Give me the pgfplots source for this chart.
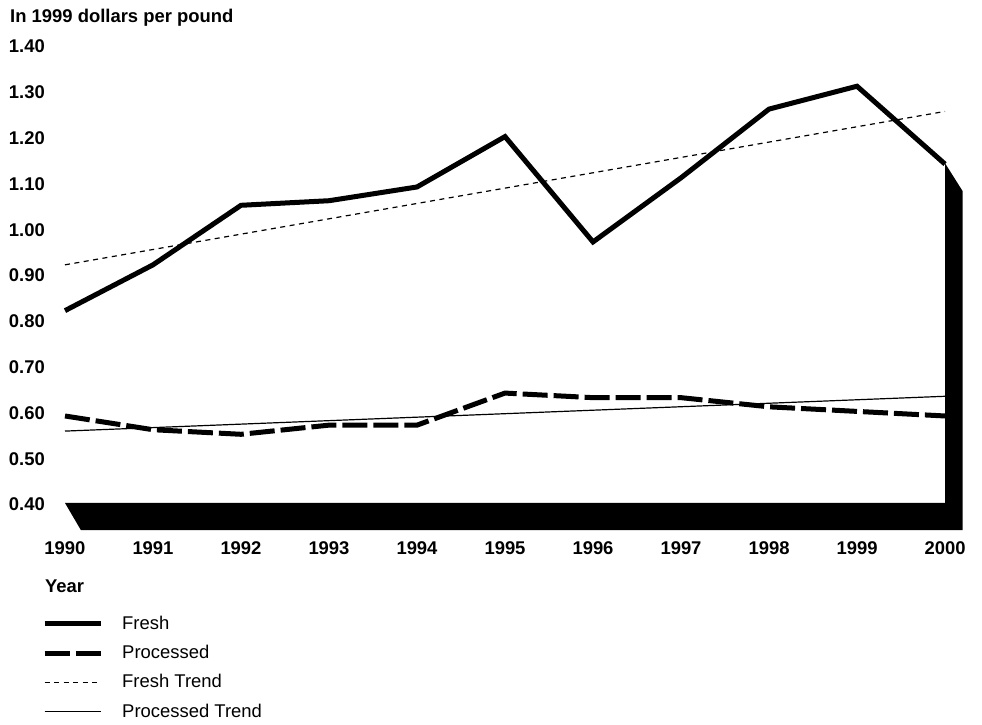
\documentclass[border=0pt]{standalone}
\usepackage{pgfplots}
\pgfplotsset{compat=1.18}
\usepackage{fontspec}
\setmainfont{Liberation Sans}
\begin{document}
\fontsize{18.5}{22}\selectfont
\begin{tikzpicture}
\useasboundingbox (0,0) rectangle (982bp,725bp);
\begin{axis}[
  at={(65bp,222bp)}, anchor=south west,
  scale only axis, width=880bp, height=458bp,
  xmin=1990, xmax=2000, ymin=0.4, ymax=1.4,
  clip=false,
  axis line style={draw=none}, tick style={draw=none},
  xtick={1990,1991,1992,1993,1994,1995,1996,1997,1998,1999,2000},
  xticklabels={1990,1991,1992,1993,1994,1995,1996,1997,1998,1999,2000},
  ytick={0.4,0.5,0.6,0.7,0.8,0.9,1.0,1.1,1.2,1.3,1.4},
  yticklabels={0.40,0.50,0.60,0.70,0.80,0.90,1.00,1.10,1.20,1.30,1.40},
  ticklabel style={font=\bfseries},
  yticklabel style={anchor=east, inner sep=0pt, xshift=-20bp, yshift=-1.5bp},
  xticklabel style={anchor=base, inner sep=0pt, yshift=-51bp},
  xlabel={\bfseries Year},
  xlabel style={at={(axis description cs:-0.0227,-0.1965)}, anchor=base west, inner sep=0pt},
  title={\bfseries In 1999 dollars per pound},
  title style={at={(axis description cs:-0.0625,1.0357)}, anchor=base west, inner sep=0pt},
  legend style={at={(axis description cs:-0.0261,-0.2456)}, anchor=north west,
    draw=none, fill=none, inner sep=0pt, row sep=13.2bp, column sep=19bp,
    nodes={inner sep=0pt}},
  legend cell align=left,
  legend image code/.code={\draw[#1] (0bp,0bp) -- (56bp,0bp);},
]
% black floor and side wall
\addplot[fill=black, draw=none, forget plot] coordinates {
  (1990,0.40) (1990.18,0.341) (2000.2,0.341) (2000.2,1.081) (2000,1.142) (2000,0.40)};

\addplot[black, line width=5bp] coordinates {
  (1990,0.82) (1991,0.92) (1992,1.05) (1993,1.06) (1994,1.09) (1995,1.20)
  (1996,0.97) (1997,1.11) (1998,1.26) (1999,1.31) (2000,1.14)};
\addlegendentry{Fresh}
\addplot[black, line width=5bp, dash pattern=on 25bp off 6bp] coordinates {
  (1990,0.59) (1991,0.56) (1992,0.55) (1993,0.57) (1994,0.57) (1995,0.64)
  (1996,0.63) (1997,0.63) (1998,0.61) (1999,0.60) (2000,0.59)};
\addlegendentry{Processed}
\addplot[black, line width=1.2bp, dash pattern=on 5bp off 4.5bp] coordinates {
  (1990,0.92) (2000,1.255)};
\addlegendentry{Fresh Trend}
\addplot[black, line width=1.2bp] coordinates {
  (1990,0.557) (2000,0.633)};
\addlegendentry{Processed Trend}
\end{axis}
\end{tikzpicture}
\end{document}
